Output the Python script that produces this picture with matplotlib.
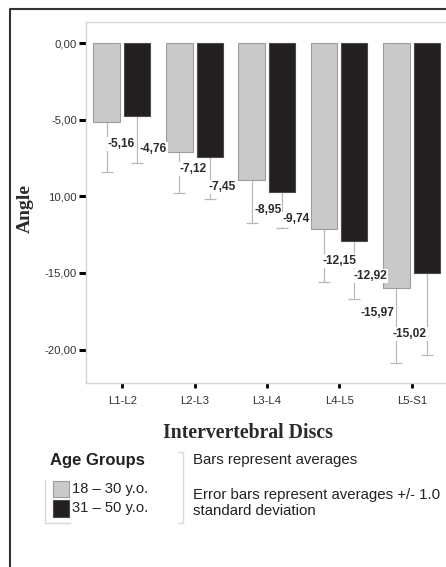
import matplotlib
matplotlib.use("Agg")
import matplotlib.pyplot as plt
from matplotlib.lines import Line2D
from matplotlib.patches import Rectangle
import numpy as np

# ---- data ----
categories = ["L1-L2", "L2-L3", "L3-L4", "L4-L5", "L5-S1"]
group_names = ["18 – 30 y.o.", "31 – 50 y.o."]
mean_young = [-5.16, -7.12, -8.95, -12.15, -15.97]
mean_old = [-4.76, -7.45, -9.74, -12.92, -15.02]
sd_young = [3.25, 2.66, 2.77, 3.45, 4.90]
sd_old = [3.05, 2.75, 2.33, 3.78, 5.33]
label_young = ["-5,16", "-7,12", "-8,95", "-12,15", "-15,97"]
label_old = ["-4,76", "-7,45", "-9,74", "-12,92", "-15,02"]
yticks = [0, -5, -10, -15, -20]
ytick_labels = ["0,00", "-5,00", "10,00", "-15,00", "-20,00"]

W, H = 446, 567
DPI = 100
fig = plt.figure(figsize=(W / DPI, H / DPI), dpi=DPI)
fig.patch.set_facecolor("white")

def fx(px):
    return px / W

def fy(py):
    return 1 - py / H

ax = fig.add_axes([fx(86), fy(383), fx(448) - fx(86), fy(22) - fy(383)])

x = np.arange(len(categories))
bw = 0.37
off_y, off_o = -0.214, 0.207
gray = "#c9c9c9"
black = "#231f20"
errc = "#b8b8b8"

ax.errorbar(x + off_y, mean_young, yerr=sd_young, fmt="none", ecolor=errc,
            elinewidth=0.9, capsize=4.5, capthick=0.9, zorder=1)
ax.errorbar(x + off_o, mean_old, yerr=sd_old, fmt="none", ecolor=errc,
            elinewidth=0.9, capsize=4.5, capthick=0.9, zorder=1)
ax.bar(x + off_y, mean_young, width=bw, color=gray, edgecolor="#9c9c9c",
       linewidth=0.8, zorder=2)
ax.bar(x + off_o, mean_old, width=bw * 0.97, color=black, edgecolor="#4a4a4a",
       linewidth=0.8, zorder=2)

# value labels: offsets in pixels (dx, dy) from bar centre / bar end, alignment
offs_y = [(1, -22, "left"), (0, -17, "left"), (2.5, -30, "left"), (-1, -32, "left"), (-1.5, -25, "right")]
offs_o = [(2, -33, "left"), (-1, -30, "left"), (1, -27, "left"), (-1, -35, "left"), (0, -61, "right")]
for xs, vals, labs, offs in [(x + off_y, mean_young, label_young, offs_y),
                             (x + off_o, mean_old, label_old, offs_o)]:
    for xi, v, lab, (dx, dy, ha) in zip(xs, vals, labs, offs):
        ax.annotate(lab, xy=(xi, v), xytext=(dx * 0.72, dy * 0.72),
                    textcoords="offset points", ha=ha, va="center",
                    fontsize=8.6, fontweight="bold", color="#2a2a2a",
                    family="Liberation Sans", zorder=3,
                    bbox=dict(boxstyle="square,pad=0.1", fc="white", ec="none"))

ax.set_xlim(-0.5, 4.5)
ax.set_ylim(-22.18, 1.37)
ax.set_yticks(yticks)
ax.set_yticklabels(ytick_labels, family="Liberation Sans", fontsize=8.2, color="#333333")
ax.set_xticks(x)
ax.set_xticklabels(categories, family="Liberation Sans", fontsize=8.2, color="#333333")
ax.tick_params(axis="y", length=5, width=2.2, color="black", pad=1.5, direction="out")
ax.tick_params(axis="x", length=3.6, width=2.0, color="black", pad=6, direction="out")
for s in ax.spines.values():
    s.set_color("#d6d6d6")
    s.set_linewidth(1.0)

# axis titles
fig.text(fx(25), fy(209), "Angle", rotation=90, ha="center", va="center",
         family="Liberation Serif", fontweight="bold", fontsize=14, color="#2a2a2a")
fig.text(fx(248), fy(433), "Intervertebral Discs", ha="center", va="center",
         family="Liberation Serif", fontweight="bold", fontsize=14.2, color="#2a2a2a")

# legend
fig.text(fx(50), fy(461), "Age Groups", ha="left", va="center",
         family="Liberation Sans", fontweight="bold", fontsize=12, color="#222222")
fig.patches.append(Rectangle((fx(53), fy(497)), fx(69) - fx(53), fy(481) - fy(497),
                             transform=fig.transFigure, fc=gray, ec="#9c9c9c", lw=0.8))
fig.patches.append(Rectangle((fx(53), fy(517)), fx(69) - fx(53), fy(500) - fy(517),
                             transform=fig.transFigure, fc=black, ec="#4a4a4a", lw=0.8))
fig.text(fx(72), fy(489), group_names[0], ha="left", va="center",
         family="Liberation Sans", fontsize=10.6, color="#222222")
fig.text(fx(72), fy(508), group_names[1], ha="left", va="center",
         family="Liberation Sans", fontsize=10.6, color="#222222")
fig.text(fx(193), fy(460), "Bars represent averages", ha="left", va="center",
         family="Liberation Sans", fontsize=10.8, color="#222222")
fig.text(fx(193), fy(495), "Error bars represent averages +/- 1.0", ha="left", va="center",
         family="Liberation Sans", fontsize=10.8, color="#222222")
fig.text(fx(193), fy(511), "standard deviation", ha="left", va="center",
         family="Liberation Sans", fontsize=10.8, color="#222222")

lc = "#d8d8d8"
fig.lines.append(Line2D([fx(45), fx(45), fx(70)], [fy(480), fy(523), fy(523)],
                        transform=fig.transFigure, color=lc, lw=1.0))
fig.lines.append(Line2D([fx(178), fx(183), fx(183), fx(178)],
                        [fy(452), fy(452), fy(523), fy(523)],
                        transform=fig.transFigure, color=lc, lw=1.0))

# outer frame (left and top)
fig.lines.append(Line2D([fx(10), fx(10), fx(446)], [fy(567), fy(9), fy(9)],
                        transform=fig.transFigure, color="#333333", lw=1.5))

fig.savefig("out.png", dpi=DPI)
